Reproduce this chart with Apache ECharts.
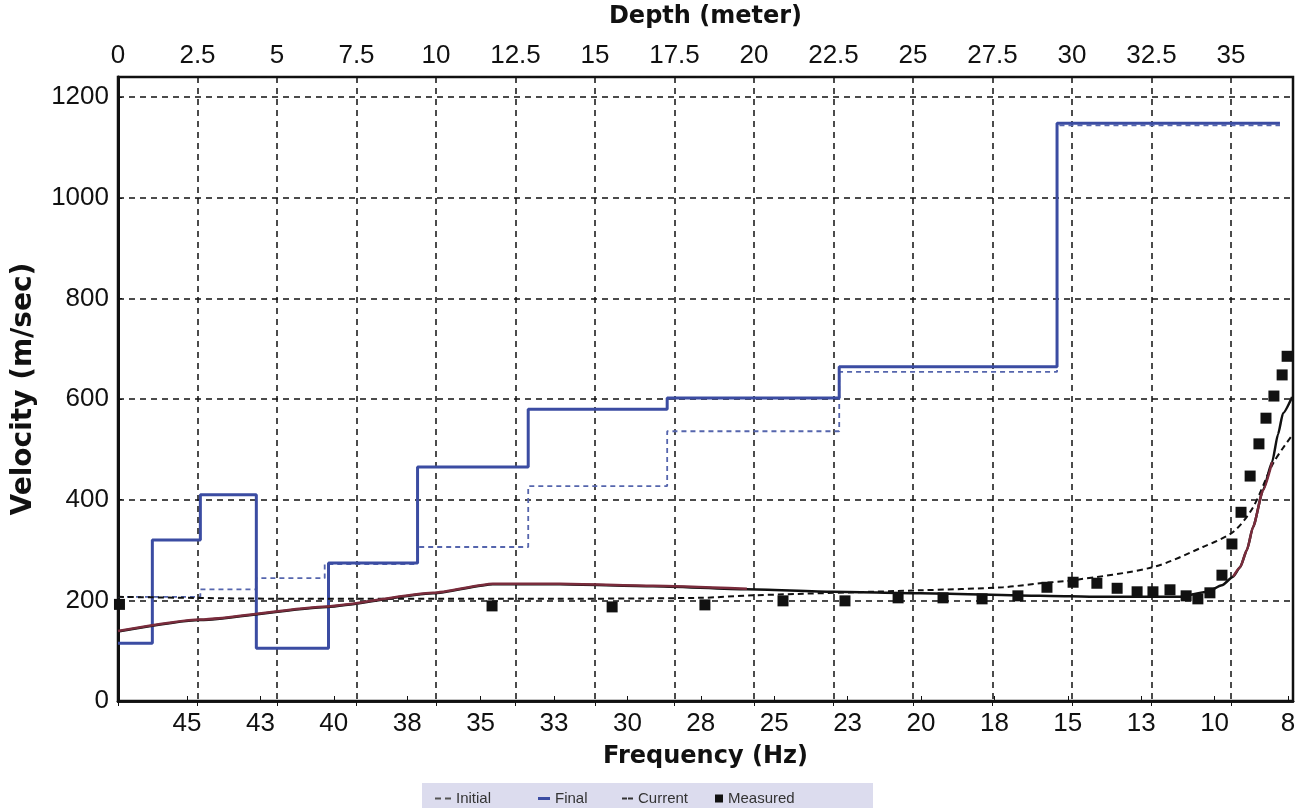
<!DOCTYPE html>
<html>
<head>
<meta charset="utf-8">
<script src="https://cdn.jsdelivr.net/npm/echarts@6/dist/echarts.min.js"></script>
<style>
  html, body { margin: 0; padding: 0; background: #fff; }
  #chart { width: 1300px; height: 808px; }
</style>
</head>
<body>
<div id="chart"></div>
<script>
// step profiles (depth in m, velocity in m/s)
var depthFinal = [0, 1.08, 2.59, 4.35, 6.62, 9.42, 12.9, 17.27, 22.68, 29.53, 36.54];
var velFinal = [115, 320, 410, 105, 274, 465, 580, 602, 664, 1148, 1148];
var depthInitial = [0, 2.59, 4.35, 6.5, 9.42, 12.9, 17.27, 22.68, 29.53, 36.54];
var velInitial = [207, 222, 244, 272, 306, 427, 536, 654, 1144, 1144];

// dispersion curves (frequency in Hz)
var freqCurrent = [47.35, 44.56, 40.23, 36.62, 34.58, 32.3, 29.13, 25.93, 23.0, 20.03, 15.95, 13.9, 11.18, 10.26, 9.75, 9.37, 9.13, 8.9, 8.69, 8.35, 8.04, 7.84, 7.67, 7.36];
var velCurrent = [138, 161, 187, 214, 232, 232, 228, 222, 217, 214, 209, 207, 207, 217, 230, 247, 266, 300, 346, 419, 475, 530, 572, 604];
var freqFinalCurve = [47.35, 44.56, 40.23, 36.62, 34.58, 32.3, 29.13, 25.93, null, 9.37, 9.13, 8.9, 8.69, 8.35, 8.04];
var velFinalCurve = [139, 162, 188, 215, 233, 233, 229, 223, null, 247, 266, 300, 346, 419, 475];
var freqInitCurve = [47.35, 41.15, 34.34, 27.53, 25.72, 20.03, 17.21, 15.95, 14.82, 12.1, 10.4, 9.37, 8.69, 8.0, 7.36];
var velInitCurve = [207, 203, 203, 205, 210, 220, 226, 234, 240, 266, 306, 336, 385, 473, 528];

// measured points
var freqMeas = [47.3, 34.61, 30.52, 27.36, 24.7, 22.59, 20.78, 19.25, 17.92, 16.7, 15.71, 14.82, 14.01, 13.32, 12.64, 12.1, 11.52, 10.97, 10.57, 10.16, 9.75, 9.41, 9.1, 8.79, 8.49, 8.25, 7.98, 7.7, 7.53];
var velMeas = [192, 189, 187, 191, 199, 199, 205, 205, 203, 209, 226, 236, 234, 224, 217, 217, 221, 209, 203, 215, 250, 312, 375, 447, 511, 562, 606, 648, 685];

// axis ticks
var freqTicks = [45, 42.5, 40, 37.5, 35, 32.5, 30, 27.5, 25, 22.5, 20, 17.5, 15, 12.5, 10, 7.5];

function pairs(xs, ys) {
  return xs.map(function (x, i) {
    return x === null ? [null, null] : [x, ys[i]];
  });
}

var tickFont = 'Liberation Sans';
var titleFont = 'DejaVu Sans';
var gridLine = { color: '#111', width: 1.5, type: [6, 5] };

var chartDom = document.getElementById('chart');
var myChart = echarts.init(chartDom);

var legendText = { fontFamily: tickFont, fontSize: 15, color: '#333' };

var option = {
  animation: false,
  backgroundColor: '#fff',
  graphic: [
    {
      type: 'rect',
      left: 422, top: 783,
      shape: { width: 451, height: 25 },
      style: { fill: '#dcdcee' },
      z: -1
    }
  ],
  legend: [
    {
      left: 430, top: 786, itemWidth: 16, itemHeight: 2,
      data: [{ name: 'Initial', icon: 'path://M0,0h6v2h-6z M10,0h6v2h-6z', itemStyle: { color: '#555' } }],
      textStyle: legendText, itemStyle: { borderWidth: 0 }
    },
    {
      left: 533, top: 786, itemWidth: 12, itemHeight: 3,
      data: [{ name: 'Final', icon: 'rect' }],
      textStyle: legendText, itemStyle: { borderWidth: 0 }
    },
    {
      left: 617, top: 786, itemWidth: 11, itemHeight: 2,
      data: [{ name: 'Current', icon: 'path://M0,0h5v2h-5z M6,0h5v2h-5z', itemStyle: { color: '#333' } }],
      textStyle: legendText, itemStyle: { borderWidth: 0 }
    },
    {
      left: 710, top: 786, itemWidth: 8, itemHeight: 8,
      data: [{ name: 'Measured', icon: 'rect' }],
      textStyle: legendText, itemStyle: { borderWidth: 0 }
    }
  ],
  grid: {
    left: 118, right: 7, top: 77, bottom: 107,
    show: true, borderColor: '#111', borderWidth: 2.5, backgroundColor: 'transparent'
  },
  xAxis: [
    {
      type: 'value',
      position: 'top',
      min: 0, max: 36.95, interval: 2.5,
      name: 'Depth (meter)',
      nameLocation: 'middle',
      nameGap: 48,
      nameTextStyle: { fontFamily: titleFont, fontWeight: 'bold', fontSize: 24, color: '#111' },
      axisLine: { lineStyle: { color: '#111', width: 2.5 } },
      axisTick: { inside: true, length: 5, lineStyle: { color: '#111' } },
      axisLabel: { fontFamily: tickFont, fontSize: 26, color: '#111', margin: 8, showMaxLabel: false },
      splitLine: { show: true, lineStyle: gridLine }
    },
    {
      type: 'value',
      position: 'bottom',
      inverse: true,
      min: 7.33, max: 47.35,
      name: 'Frequency (Hz)',
      nameLocation: 'middle',
      nameGap: 44,
      nameTextStyle: { fontFamily: titleFont, fontWeight: 'bold', fontSize: 24, color: '#111' },
      axisLine: { onZero: false, lineStyle: { color: '#111', width: 2.5 } },
      axisTick: { inside: true, length: 5, customValues: freqTicks, lineStyle: { color: '#111' } },
      axisLabel: {
        fontFamily: tickFont, fontSize: 26, color: '#111', margin: 10,
        customValues: freqTicks,
        formatter: function (v) { return String(Math.round(v)); }
      },
      splitLine: { show: false }
    }
  ],
  yAxis: {
    type: 'value',
    min: 0, max: 1240, interval: 200,
    name: 'Velocity (m/sec)',
    nameLocation: 'middle',
    nameGap: 80,
    nameRotate: 90,
    nameTextStyle: { fontFamily: titleFont, fontWeight: 'bold', fontSize: 28, color: '#111' },
    axisLine: { show: true, lineStyle: { color: '#111', width: 3 } },
    axisTick: { show: true, inside: true, length: 4, lineStyle: { color: '#111' } },
    axisLabel: {
      fontFamily: tickFont, fontSize: 26, color: '#111', margin: 9, showMaxLabel: false,
      formatter: function (v) { return String(v); }
    },
    splitLine: { show: true, lineStyle: gridLine }
  },
  series: [
    {
      name: 'Initial',
      type: 'line',
      xAxisIndex: 0,
      step: 'end',
      symbol: 'none',
      color: '#5565ad',
      lineStyle: { color: '#5565ad', width: 1.8, type: [5, 4] },
      data: pairs(depthInitial, velInitial),
      z: 3
    },
    {
      name: 'Final',
      type: 'line',
      xAxisIndex: 0,
      step: 'end',
      symbol: 'none',
      color: '#3b4ca2',
      lineStyle: { color: '#3b4ca2', width: 3 },
      data: pairs(depthFinal, velFinal),
      z: 4
    },
    {
      name: 'Initial curve',
      type: 'line',
      xAxisIndex: 1,
      symbol: 'none',
      smooth: 0.3,
      color: '#111',
      lineStyle: { color: '#111', width: 2, type: [6, 4] },
      data: pairs(freqInitCurve, velInitCurve),
      z: 5
    },
    {
      name: 'Current',
      type: 'line',
      xAxisIndex: 1,
      symbol: 'none',
      smooth: 0.2,
      smoothMonotone: 'x',
      color: '#111',
      lineStyle: { color: '#111', width: 2.5 },
      data: pairs(freqCurrent, velCurrent),
      z: 6
    },
    {
      name: 'Final curve',
      type: 'line',
      xAxisIndex: 1,
      symbol: 'none',
      smooth: 0.2,
      smoothMonotone: 'x',
      connectNulls: false,
      color: '#7a2c3c',
      lineStyle: { color: '#7a2c3c', width: 2.5 },
      data: pairs(freqFinalCurve, velFinalCurve),
      z: 7
    },
    {
      name: 'Measured',
      type: 'scatter',
      xAxisIndex: 1,
      symbol: 'rect',
      symbolSize: 11,
      color: '#111',
      itemStyle: { color: '#111', opacity: 1 },
      data: pairs(freqMeas, velMeas),
      z: 8
    }
  ]
};

option && myChart.setOption(option);
</script>
</body>
</html>
